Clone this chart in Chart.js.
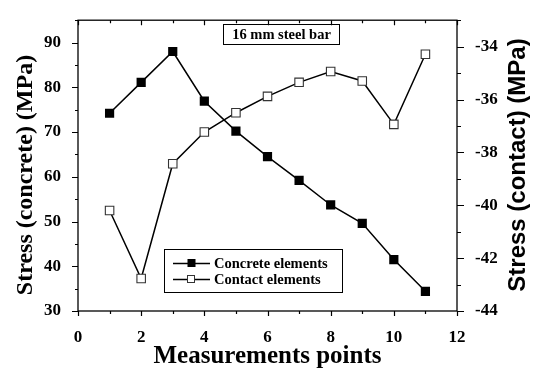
<!DOCTYPE html>
<html><head><meta charset="utf-8">
<script src="https://cdn.jsdelivr.net/npm/chart.js@4.4.1/dist/chart.umd.min.js"></script>
<style>html,body{margin:0;padding:0;background:#fff;}#wrap{width:533px;height:372px;}</style>
</head><body><div id="wrap"><canvas id="c" width="533" height="372"></canvas></div>
<script>
const points = [1,2,3,4,5,6,7,8,9,10,11];
const concrete = [74.2,81.1,88.0,76.9,70.2,64.5,59.2,53.7,49.6,41.5,34.4];
const contact = [-40.2,-42.77,-38.43,-37.23,-36.5,-35.88,-35.35,-34.94,-35.3,-36.94,-34.29];
const xTicks = [0,2,4,6,8,10,12];
const yTicks = [30,40,50,60,70,80,90];
const y2Ticks = [-44,-42,-40,-38,-36,-34];
const seriesNames = ['Concrete elements','Contact elements'];
const annotationText = '16 mm steel bar';
const xTitle = 'Measurements points';
const yTitle = 'Stress (concrete) (MPa)';
const y2Title = 'Stress (contact) (MPa)';

const SERIF = '"Liberation Serif", "Times New Roman", serif';
const SANS = '"Liberation Sans", Arial, sans-serif';
const TICKFONT = {family: 'Liberation Serif', size: 17, weight: 700, style: 'normal', lineHeight: 1.2};

const extras = {
  id: 'extras',
  afterDraw(chart) {
    const ctx = chart.ctx, a = chart.chartArea;
    const sx = chart.scales.x, sy = chart.scales.y, sy2 = chart.scales.y2;
    ctx.save();
    ctx.strokeStyle = '#000'; ctx.lineWidth = 1.3;
    ctx.strokeRect(a.left, a.top, a.right - a.left, a.bottom - a.top);
    ctx.lineWidth = 1.2;
    ctx.beginPath();
    for (let v = 0; v <= 12; v++) {
      const px = Math.round(sx.getPixelForValue(v)) + 0.5;
      const len = v % 2 === 0 ? 5 : 3;
      ctx.moveTo(px, a.bottom); ctx.lineTo(px, a.bottom + len);
      ctx.moveTo(px, a.top); ctx.lineTo(px, a.top + len);
    }
    for (let v = 30; v <= 95; v += 5) {
      const py = Math.round(sy.getPixelForValue(v)) + 0.5;
      const len = v % 10 === 0 ? 6 : 3;
      ctx.moveTo(a.left, py); ctx.lineTo(a.left - len, py);
    }
    for (let v = -44; v <= -33; v += 1) {
      const py = Math.round(sy2.getPixelForValue(v)) + 0.5;
      const len = v % 2 === 0 ? 7 : 4;
      ctx.moveTo(a.right, py); ctx.lineTo(a.right + len, py);
    }
    ctx.stroke();

    ctx.fillStyle = '#000';
    ctx.textAlign = 'center'; ctx.textBaseline = 'alphabetic';
    ctx.font = 'bold 25px ' + SERIF;
    ctx.fillText(xTitle, (a.left + a.right) / 2, 363);
    ctx.textBaseline = 'middle';
    ctx.save();
    ctx.translate(26, 175); ctx.rotate(-Math.PI / 2);
    ctx.font = 'bold 24px ' + SERIF;
    ctx.fillText(yTitle, 0, 0);
    ctx.restore();
    ctx.save();
    ctx.translate(518, 165); ctx.rotate(-Math.PI / 2);
    ctx.font = 'bold 24px ' + SANS;
    ctx.fillText(y2Title, 0, 0);
    ctx.restore();

    ctx.lineWidth = 1;
    ctx.strokeRect(223.5, 24.5, 116, 20);
    ctx.font = 'bold 14.5px ' + SERIF;
    ctx.fillText(annotationText, 281.5, 35);

    ctx.strokeRect(164.5, 249.5, 178, 43);
    const rows = [263, 279];
    ctx.textAlign = 'left';
    ctx.font = 'bold 14.5px ' + SERIF;
    rows.forEach((ry, i) => {
      ctx.beginPath();
      ctx.moveTo(173, ry + 0.5); ctx.lineTo(210, ry + 0.5);
      ctx.lineWidth = 1.3; ctx.strokeStyle = '#000'; ctx.stroke();
      if (i === 0) {
        ctx.fillStyle = '#000'; ctx.fillRect(187.5, ry - 4, 8, 8);
      } else {
        ctx.fillStyle = '#fff'; ctx.fillRect(187.5, ry - 3.5, 7, 7);
        ctx.lineWidth = 1; ctx.strokeStyle = '#333';
        ctx.strokeRect(187.5, ry - 3.5, 7, 7);
        ctx.strokeStyle = '#000';
      }
      ctx.fillStyle = '#000';
      ctx.fillText(seriesNames[i], 214, ry + 1);
    });
    ctx.restore();
  }
};

new Chart(document.getElementById('c'), {
  type: 'line',
  data: {
    datasets: [
      {
        label: seriesNames[0], yAxisID: 'y',
        data: points.map((p, i) => ({x: p, y: concrete[i]})),
        borderColor: '#000', borderWidth: 1.5, backgroundColor: '#000',
        pointStyle: 'rect', pointRadius: 6.5, pointBackgroundColor: '#000',
        pointBorderColor: '#000', pointBorderWidth: 0, tension: 0
      },
      {
        label: seriesNames[1], yAxisID: 'y2',
        data: points.map((p, i) => ({x: p, y: contact[i]})),
        borderColor: '#000', borderWidth: 1.5, backgroundColor: '#fff',
        pointStyle: 'rect', pointRadius: 6, pointBackgroundColor: '#fff',
        pointBorderColor: '#333', pointBorderWidth: 1.1, tension: 0
      }
    ]
  },
  options: {
    responsive: false, animation: false, devicePixelRatio: 1,
    layout: {padding: {top: 7, left: 0, right: 0, bottom: 0}},
    plugins: {legend: {display: false}, tooltip: {enabled: false}},
    scales: {
      x: {
        type: 'linear', min: 0, max: 12,
        afterFit(s) { s.height = 61; },
        afterBuildTicks(s) { s.ticks = xTicks.map(v => ({value: v})); },
        grid: {display: false}, border: {display: false},
        ticks: {padding: 8, color: '#000', font: TICKFONT, maxRotation: 0}
      },
      y: {
        type: 'linear', position: 'left', min: 30, max: 95,
        afterFit(s) { s.width = 78; },
        afterBuildTicks(s) { s.ticks = yTicks.map(v => ({value: v})); },
        grid: {display: false}, border: {display: false},
        ticks: {padding: 9, color: '#000', font: TICKFONT}
      },
      y2: {
        type: 'linear', position: 'right', min: -44, max: -33,
        afterFit(s) { s.width = 76; },
        afterBuildTicks(s) { s.ticks = y2Ticks.map(v => ({value: v})); },
        grid: {display: false}, border: {display: false},
        ticks: {padding: 10, color: '#000', font: TICKFONT}
      }
    }
  },
  plugins: [extras]
});
</script></body></html>
